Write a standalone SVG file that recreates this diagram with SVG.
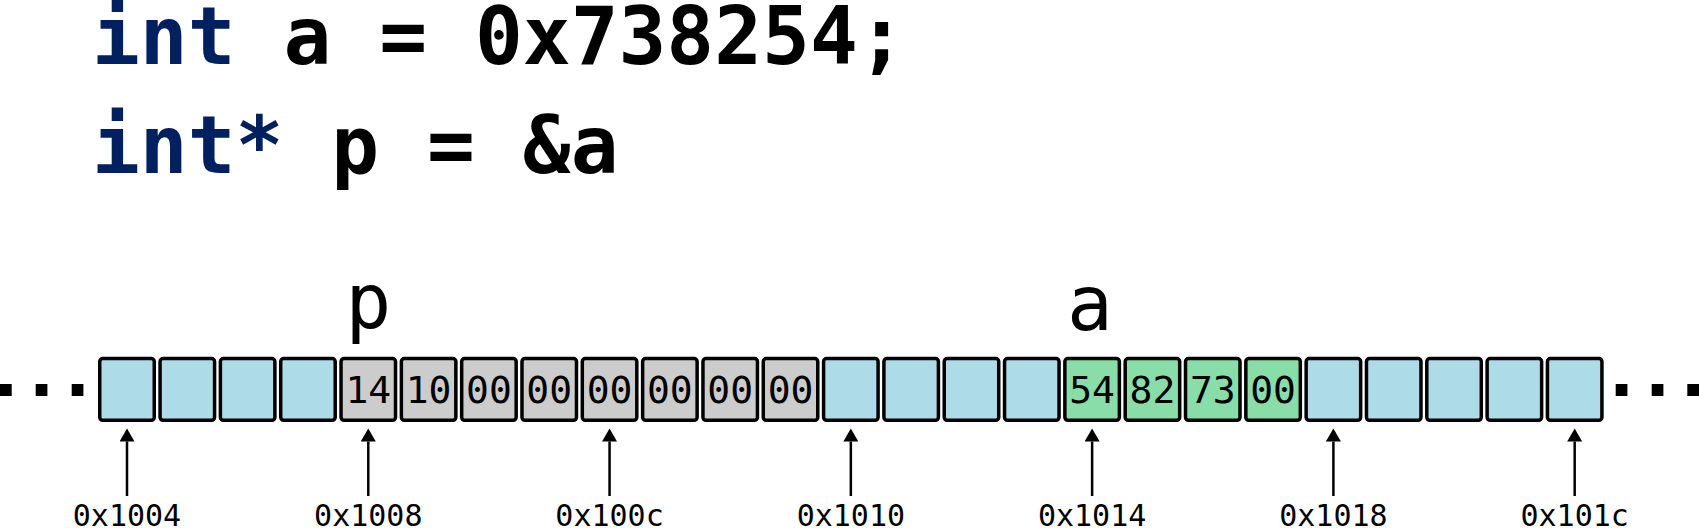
<svg xmlns="http://www.w3.org/2000/svg" width="1699" height="528" viewBox="0 0 1699 528">
<style>
.code{font-family:"DejaVu Sans Mono","Liberation Mono",monospace;font-weight:bold;font-size:79.5px;fill:#000}
.kw{fill:#002060}
.var{font-family:"DejaVu Sans Mono","Liberation Mono",monospace;font-size:76px;fill:#000;text-anchor:middle}
.cell{stroke:#000;stroke-width:3.5;rx:3;ry:3}
.blue{fill:#ADDCE8}
.grey{fill:#CCCCCC}
.green{fill:#88DDA8}
.val{font-family:"DejaVu Sans Mono","Liberation Mono",monospace;font-size:38px;fill:#000;text-anchor:middle}
.addr{font-family:"DejaVu Sans Mono","Liberation Mono",monospace;font-size:30px;fill:#000;text-anchor:middle}
.arrow{stroke:#000;stroke-width:2.5;fill:none;marker-end:url(#ah)}
.dot{fill:#000}
</style>
<defs>
<marker id="ah" markerUnits="userSpaceOnUse" markerWidth="14" markerHeight="15" refX="0" refY="7.5" orient="auto" viewBox="0 0 14 15">
<path d="M0,0 L13,7.5 L0,15 z" fill="#000"/>
</marker>
</defs>
<g id="code">
<text class="code" x="92" y="64"><tspan class="kw">int</tspan> a = 0x738254;</text>
<text class="code" x="92" y="173"><tspan class="kw">int*</tspan> p = &amp;a</text>
</g>
<g id="labels">
<text class="var" x="368.3" y="328">p</text>
<text class="var" x="1090" y="330">a</text>
</g>
<g id="dots-left">
<rect class="dot" x="0" y="384" width="11.7" height="12"/>
<rect class="dot" x="35.7" y="384" width="11.7" height="12"/>
<rect class="dot" x="71.7" y="384" width="11.7" height="12"/>
</g>
<g id="dots-right">
<rect class="dot" x="1615.7" y="384" width="11.7" height="12"/>
<rect class="dot" x="1651.7" y="384" width="11.7" height="12"/>
<rect class="dot" x="1687.3" y="384" width="11.7" height="12"/>
</g>
<g id="memory">
<g id="cell0"><rect class="cell blue" x="99.75" y="358.5" width="54.5" height="61.8"/></g>
<g id="cell1"><rect class="cell blue" x="160.07" y="358.5" width="54.5" height="61.8"/></g>
<g id="cell2"><rect class="cell blue" x="220.39" y="358.5" width="54.5" height="61.8"/></g>
<g id="cell3"><rect class="cell blue" x="280.71" y="358.5" width="54.5" height="61.8"/></g>
<g id="cell4"><rect class="cell grey" x="341.03" y="358.5" width="54.5" height="61.8"/><text class="val" x="368.28" y="403">14</text></g>
<g id="cell5"><rect class="cell grey" x="401.35" y="358.5" width="54.5" height="61.8"/><text class="val" x="428.6" y="403">10</text></g>
<g id="cell6"><rect class="cell grey" x="461.67" y="358.5" width="54.5" height="61.8"/><text class="val" x="488.92" y="403">00</text></g>
<g id="cell7"><rect class="cell grey" x="521.99" y="358.5" width="54.5" height="61.8"/><text class="val" x="549.24" y="403">00</text></g>
<g id="cell8"><rect class="cell grey" x="582.31" y="358.5" width="54.5" height="61.8"/><text class="val" x="609.56" y="403">00</text></g>
<g id="cell9"><rect class="cell grey" x="642.63" y="358.5" width="54.5" height="61.8"/><text class="val" x="669.88" y="403">00</text></g>
<g id="cell10"><rect class="cell grey" x="702.95" y="358.5" width="54.5" height="61.8"/><text class="val" x="730.2" y="403">00</text></g>
<g id="cell11"><rect class="cell grey" x="763.27" y="358.5" width="54.5" height="61.8"/><text class="val" x="790.52" y="403">00</text></g>
<g id="cell12"><rect class="cell blue" x="823.59" y="358.5" width="54.5" height="61.8"/></g>
<g id="cell13"><rect class="cell blue" x="883.91" y="358.5" width="54.5" height="61.8"/></g>
<g id="cell14"><rect class="cell blue" x="944.23" y="358.5" width="54.5" height="61.8"/></g>
<g id="cell15"><rect class="cell blue" x="1004.55" y="358.5" width="54.5" height="61.8"/></g>
<g id="cell16"><rect class="cell green" x="1064.87" y="358.5" width="54.5" height="61.8"/><text class="val" x="1092.12" y="403">54</text></g>
<g id="cell17"><rect class="cell green" x="1125.19" y="358.5" width="54.5" height="61.8"/><text class="val" x="1152.44" y="403">82</text></g>
<g id="cell18"><rect class="cell green" x="1185.51" y="358.5" width="54.5" height="61.8"/><text class="val" x="1212.76" y="403">73</text></g>
<g id="cell19"><rect class="cell green" x="1245.83" y="358.5" width="54.5" height="61.8"/><text class="val" x="1273.08" y="403">00</text></g>
<g id="cell20"><rect class="cell blue" x="1306.15" y="358.5" width="54.5" height="61.8"/></g>
<g id="cell21"><rect class="cell blue" x="1366.47" y="358.5" width="54.5" height="61.8"/></g>
<g id="cell22"><rect class="cell blue" x="1426.79" y="358.5" width="54.5" height="61.8"/></g>
<g id="cell23"><rect class="cell blue" x="1487.11" y="358.5" width="54.5" height="61.8"/></g>
<g id="cell24"><rect class="cell blue" x="1547.43" y="358.5" width="54.5" height="61.8"/></g>
</g>
<g id="connectors">
<path class="arrow" d="M127,496 V441.5"/>
<path class="arrow" d="M368.28,496 V441.5"/>
<path class="arrow" d="M609.56,496 V441.5"/>
<path class="arrow" d="M850.84,496 V441.5"/>
<path class="arrow" d="M1092.12,496 V441.5"/>
<path class="arrow" d="M1333.4,496 V441.5"/>
<path class="arrow" d="M1574.68,496 V441.5"/>
</g>
<g id="addresses">
<text class="addr" x="127" y="526">0x1004</text>
<text class="addr" x="368.28" y="526">0x1008</text>
<text class="addr" x="609.56" y="526">0x100c</text>
<text class="addr" x="850.84" y="526">0x1010</text>
<text class="addr" x="1092.12" y="526">0x1014</text>
<text class="addr" x="1333.4" y="526">0x1018</text>
<text class="addr" x="1574.68" y="526">0x101c</text>
</g>
</svg>
